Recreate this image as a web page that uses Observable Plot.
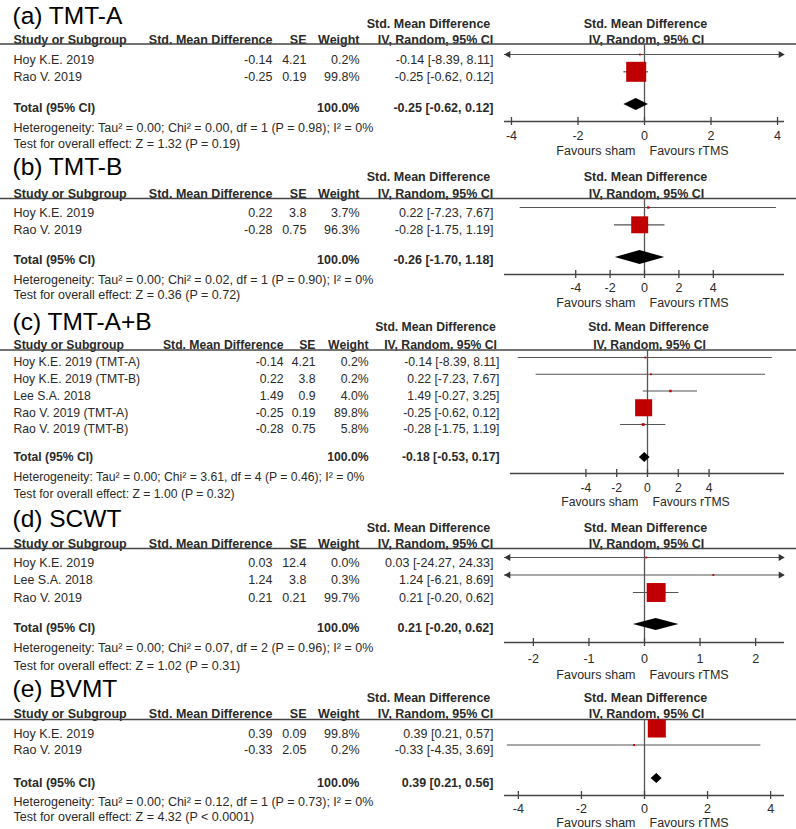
<!DOCTYPE html>
<html><head><meta charset="utf-8">
<script src="https://cdn.jsdelivr.net/npm/d3@7"></script>
<script src="https://cdn.jsdelivr.net/npm/@observablehq/plot@0.6"></script>
<style>
body{margin:0;background:#fff;}
#chart{width:796px;}
#chart svg{display:block;}
g[aria-label="underlined"] text{text-decoration:underline;}
</style></head><body><div id="chart"></div>
<script>
// ---------- data ----------
const tmtA_title = "(a) TMT-A";
const tmtA_studies = ["Hoy K.E. 2019", "Rao V. 2019"];
const tmtA_smd = [-0.14, -0.25];
const tmtA_se = [4.21, 0.19];
const tmtA_weight = [0.2, 99.8];
const tmtA_lo = [-8.39, -0.62];
const tmtA_hi = [8.11, 0.12];
const tmtA_total = [-0.25, -0.62, 0.12];
const tmtA_het = "Heterogeneity: Tau² = 0.00; Chi² = 0.00, df = 1 (P = 0.98); I² = 0%";
const tmtA_test = "Test for overall effect: Z = 1.32 (P = 0.19)";
const tmtA_ticks = [-4, -2, 0, 2, 4];

const tmtB_title = "(b) TMT-B";
const tmtB_studies = ["Hoy K.E. 2019", "Rao V. 2019"];
const tmtB_smd = [0.22, -0.28];
const tmtB_se = [3.8, 0.75];
const tmtB_weight = [3.7, 96.3];
const tmtB_lo = [-7.23, -1.75];
const tmtB_hi = [7.67, 1.19];
const tmtB_total = [-0.26, -1.70, 1.18];
const tmtB_het = "Heterogeneity: Tau² = 0.00; Chi² = 0.02, df = 1 (P = 0.90); I² = 0%";
const tmtB_test = "Test for overall effect: Z = 0.36 (P = 0.72)";
const tmtB_ticks = [-4, -2, 0, 2, 4];

const tmtAB_title = "(c) TMT-A+B";
const tmtAB_studies = ["Hoy K.E. 2019 (TMT-A)", "Hoy K.E. 2019 (TMT-B)", "Lee S.A. 2018", "Rao V. 2019 (TMT-A)", "Rao V. 2019 (TMT-B)"];
const tmtAB_smd = [-0.14, 0.22, 1.49, -0.25, -0.28];
const tmtAB_se = [4.21, 3.8, 0.9, 0.19, 0.75];
const tmtAB_weight = [0.2, 0.2, 4.0, 89.8, 5.8];
const tmtAB_lo = [-8.39, -7.23, -0.27, -0.62, -1.75];
const tmtAB_hi = [8.11, 7.67, 3.25, 0.12, 1.19];
const tmtAB_total = [-0.18, -0.53, 0.17];
const tmtAB_het = "Heterogeneity: Tau² = 0.00; Chi² = 3.61, df = 4 (P = 0.46); I² = 0%";
const tmtAB_test = "Test for overall effect: Z = 1.00 (P = 0.32)";
const tmtAB_ticks = [-4, -2, 0, 2, 4];

const scwt_title = "(d) SCWT";
const scwt_studies = ["Hoy K.E. 2019", "Lee S.A. 2018", "Rao V. 2019"];
const scwt_smd = [0.03, 1.24, 0.21];
const scwt_se = [12.4, 3.8, 0.21];
const scwt_weight = [0.0, 0.3, 99.7];
const scwt_lo = [-24.27, -6.21, -0.20];
const scwt_hi = [24.33, 8.69, 0.62];
const scwt_total = [0.21, -0.20, 0.62];
const scwt_het = "Heterogeneity: Tau² = 0.00; Chi² = 0.07, df = 2 (P = 0.96); I² = 0%";
const scwt_test = "Test for overall effect: Z = 1.02 (P = 0.31)";
const scwt_ticks = [-2, -1, 0, 1, 2];

const bvmt_title = "(e) BVMT";
const bvmt_studies = ["Hoy K.E. 2019", "Rao V. 2019"];
const bvmt_smd = [0.39, -0.33];
const bvmt_se = [0.09, 2.05];
const bvmt_weight = [99.8, 0.2];
const bvmt_lo = [0.21, -4.35];
const bvmt_hi = [0.57, 3.69];
const bvmt_total = [0.39, 0.21, 0.56];
const bvmt_het = "Heterogeneity: Tau² = 0.00; Chi² = 0.12, df = 1 (P = 0.73); I² = 0%";
const bvmt_test = "Test for overall effect: Z = 4.32 (P < 0.0001)";
const bvmt_ticks = [-4, -2, 0, 2, 4];

const favLeft = "Favours sham";
const favRight = "Favours rTMS";

// ---------- layout / style ----------
const FONT = "'Liberation Sans', Arial, sans-serif";
const TXT = "#2a2a2a";
const LINE = "#555";
const RED = "#c00000";
const colsStd = {smd: 272, se: 306, w: 359, ci: 493, ciH1: 428, ciH2: 435};

const panels = [
  {title: tmtA_title, studies: tmtA_studies, smd: tmtA_smd, se: tmtA_se, weight: tmtA_weight, lo: tmtA_lo, hi: tmtA_hi, total: tmtA_total, het: tmtA_het, test: tmtA_test, ticks: tmtA_ticks,
   top: 0, height: 152, titleBase: 23, h1: 23, h2: 39.5, rule: 43.5, row0: 54, step: 17.3, totalY: 107, diamondY: 104, diamondHalf: 6,
   hetY: 127, testY: 143, axis: 121, tickLab: 135, fav: 150, xRange: [504, 784], limit: 4.21, cols: colsStd, fs: 12.5, rMax: 11.3},
  {title: tmtB_title, studies: tmtB_studies, smd: tmtB_smd, se: tmtB_se, weight: tmtB_weight, lo: tmtB_lo, hi: tmtB_hi, total: tmtB_total, het: tmtB_het, test: tmtB_test, ticks: tmtB_ticks,
   top: 152, height: 155, titleBase: 174, h1: 176, h2: 193, rule: 198, row0: 207, step: 17.3, totalY: 259, diamondY: 257, diamondHalf: 7,
   hetY: 279, testY: 294, axis: 274, tickLab: 287, fav: 302, xRange: [504, 784], limit: 8.14, cols: colsStd, fs: 12.5, rMax: 9.9},
  {title: tmtAB_title, studies: tmtAB_studies, smd: tmtAB_smd, se: tmtAB_se, weight: tmtAB_weight, lo: tmtAB_lo, hi: tmtAB_hi, total: tmtAB_total, het: tmtAB_het, test: tmtAB_test, ticks: tmtAB_ticks,
   top: 307, height: 196, titleBase: 329, h1: 327, h2: 345, rule: 349.5, row0: 357, step: 16.75, totalY: 457, diamondY: 457, diamondHalf: 5,
   hetY: 477, testY: 494, axis: 473, tickLab: 488, fav: 502, xRange: [510, 784], limit: 8.9, cols: {smd: 283, se: 315, w: 368, ci: 499, ciH1: 435, ciH2: 440}, fs: 12.2, rMax: 10.6},
  {title: scwt_title, studies: scwt_studies, smd: scwt_smd, se: scwt_se, weight: scwt_weight, lo: scwt_lo, hi: scwt_hi, total: scwt_total, het: scwt_het, test: scwt_test, ticks: scwt_ticks,
   top: 503, height: 170, titleBase: 526, h1: 527, h2: 543, rule: 548, row0: 557, step: 17.5, totalY: 627, diamondY: 624, diamondHalf: 6,
   hetY: 647, testY: 665, axis: 642, tickLab: 658, fav: 674, xRange: [504, 784], limit: 2.52, cols: colsStd, fs: 12.5, rMax: 10.7},
  {title: bvmt_title, studies: bvmt_studies, smd: bvmt_smd, se: bvmt_se, weight: bvmt_weight, lo: bvmt_lo, hi: bvmt_hi, total: bvmt_total, het: bvmt_het, test: bvmt_test, ticks: bvmt_ticks,
   top: 673, height: 156, titleBase: 696, h1: 697, h2: 713, rule: 719, row0: 728, step: 16.5, totalY: 782, diamondY: 778, diamondHalf: 5,
   hetY: 801, testY: 816, axis: 795, tickLab: 808, fav: 822, xRange: [504, 784], limit: 4.44, cols: colsStd, fs: 12.5, rMax: 10.2}
];

const ciStr = (e, l, h) => `${e.toFixed(2)} [${l.toFixed(2)}, ${h.toFixed(2)}]`;

function forest(p) {
  const rows = p.studies.map((s, i) => ({i, study: s, smd: p.smd[i], se: p.se[i], w: p.weight[i], lo: p.lo[i], hi: p.hi[i]}));
  const L = p.limit;
  const Y = px => (px - p.row0) / p.step;
  const base = {fontFamily: FONT, fontSize: p.fs, fill: TXT};
  const c = p.cols;
  const textDy = 5;
  const colText = (txt, ypx, dx, anchor, extra = {}) =>
    Plot.text([txt], {text: d => d, y: () => Y(ypx), frameAnchor: "left", dx, textAnchor: anchor, ...base, ...extra});
  const [tEst, tLo, tHi] = p.total;
  const yd = Y(p.diamondY), dh = p.diamondHalf / p.step;
  const diamond = [{x: tLo, y1: yd, y2: yd}, {x: tEst, y1: yd - dh, y2: yd + dh}, {x: tHi, y1: yd, y2: yd}];
  const clip = v => Math.max(-L, Math.min(L, v));
  const tick = 4 / p.step;
  return Plot.plot({
    width: 796, height: p.height, margin: 0,
    style: {background: "white", overflow: "visible"},
    x: {domain: [-L, L], range: p.xRange, axis: null},
    y: {domain: [0, 1], range: [p.row0 - p.top, p.row0 - p.top + p.step], axis: null},
    r: {type: "linear", domain: [0, 100], range: [1, p.rMax]},
    marks: [
      Plot.text([p.title], {text: d => d, frameAnchor: "top-left", dx: 12, dy: p.titleBase - p.top, lineAnchor: "bottom",
        textAnchor: "start", fontFamily: FONT, fontSize: 24.5, fill: "#000"}),
      // header line 1
      colText("Std. Mean Difference", p.h1, c.ciH1, "middle", {fontWeight: "bold"}),
      Plot.text(["Std. Mean Difference"], {text: d => d, x: () => 0, y: () => Y(p.h1), dx: 1, ...base, fontWeight: "bold"}),
      // header line 2
      colText("Study or Subgroup", p.h2, 13, "start", {fontWeight: "bold", ariaLabel: "underlined"}),
      colText("Std. Mean Difference", p.h2, c.smd, "end", {fontWeight: "bold", ariaLabel: "underlined"}),
      colText("SE", p.h2, c.se, "end", {fontWeight: "bold", ariaLabel: "underlined"}),
      colText("Weight", p.h2, c.w, "end", {fontWeight: "bold", ariaLabel: "underlined"}),
      colText("IV, Random, 95% CI", p.h2, c.ciH2, "middle", {fontWeight: "bold", ariaLabel: "underlined"}),
      Plot.text(["IV, Random, 95% CI"], {text: d => d, x: () => 0, y: () => Y(p.h2), dx: 2, ...base, fontWeight: "bold", ariaLabel: "underlined"}),
      // header rule
      Plot.ruleY([Y(p.rule)], {stroke: "#444", strokeWidth: 1.5}),
      // zero line
      Plot.ruleX([0], {y1: () => Y(p.rule), y2: () => Y(p.axis), stroke: LINE, strokeWidth: 1.3}),
      // axis
      Plot.ruleY([Y(p.axis)], {x1: () => -L, x2: () => L, stroke: "#444", strokeWidth: 1.3}),
      Plot.ruleX(p.ticks, {x: d => d, y1: () => Y(p.axis) - tick, y2: () => Y(p.axis) + tick, stroke: "#444", strokeWidth: 1.3}),
      Plot.text(p.ticks, {x: d => d, y: () => Y(p.tickLab), text: d => String(d), ...base}),
      Plot.text([favLeft], {text: d => d, x: () => 0, y: () => Y(p.fav), dx: -9, textAnchor: "end", ...base}),
      Plot.text([favRight], {text: d => d, x: () => 0, y: () => Y(p.fav), dx: 5, textAnchor: "start", ...base}),
      // confidence intervals
      Plot.ruleY(rows, {y: "i", x1: d => clip(d.lo), x2: d => clip(d.hi), stroke: LINE, strokeWidth: 1.2}),
      Plot.dot(rows.filter(d => d.lo < -L), {x: () => -L, y: "i", symbol: "triangle", rotate: -90, r: 2.6, dx: 3.8, fill: "#333"}),
      Plot.dot(rows.filter(d => d.hi > L), {x: () => L, y: "i", symbol: "triangle", rotate: 90, r: 2.6, dx: -3.8, fill: "#333"}),
      Plot.dot(rows, {x: "smd", y: "i", r: "w", symbol: "square", fill: RED}),
      // pooled diamond
      Plot.areaY(diamond, {x: "x", y1: "y1", y2: "y2", fill: "#000"}),
      // table rows
      Plot.text(rows, {y: "i", text: "study", frameAnchor: "left", dx: 13, dy: textDy, textAnchor: "start", ...base}),
      Plot.text(rows, {y: "i", text: d => d.smd.toFixed(2), frameAnchor: "left", dx: c.smd, dy: textDy, textAnchor: "end", ...base}),
      Plot.text(rows, {y: "i", text: d => String(d.se), frameAnchor: "left", dx: c.se, dy: textDy, textAnchor: "end", ...base}),
      Plot.text(rows, {y: "i", text: d => d.w.toFixed(1) + "%", frameAnchor: "left", dx: c.w, dy: textDy, textAnchor: "end", ...base}),
      Plot.text(rows, {y: "i", text: d => ciStr(d.smd, d.lo, d.hi), frameAnchor: "left", dx: c.ci, dy: textDy, textAnchor: "end", ...base}),
      // total row
      colText("Total (95% CI)", p.totalY, 13, "start", {fontWeight: "bold"}),
      colText("100.0%", p.totalY, c.w, "end", {fontWeight: "bold"}),
      colText(ciStr(tEst, tLo, tHi), p.totalY, c.ci, "end", {fontWeight: "bold"}),
      colText(p.het, p.hetY, 13, "start"),
      colText(p.test, p.testY, 13, "start")
    ]
  });
}

const root = document.getElementById("chart");
for (const p of panels) root.appendChild(forest(p));
</script>
</body></html>
